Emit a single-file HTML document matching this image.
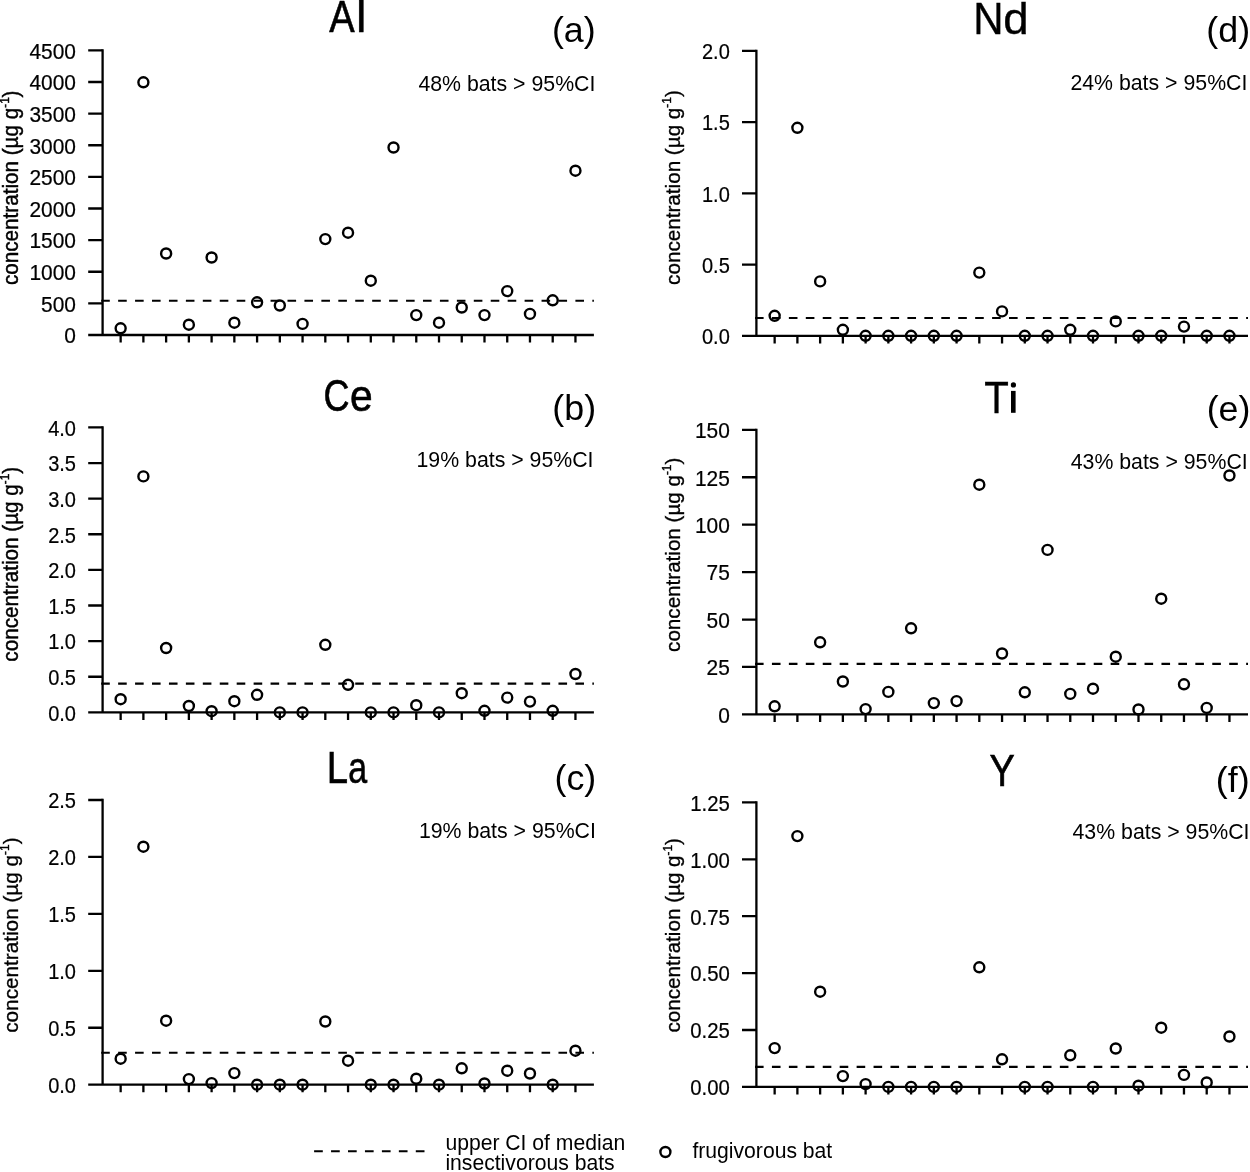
<!DOCTYPE html>
<html><head><meta charset="utf-8"><title>Figure</title>
<style>html,body{margin:0;padding:0;background:#fff}svg{display:block}svg{will-change:transform}text{font-family:"Liberation Sans",sans-serif;fill:#000}</style></head><body>
<svg width="1250" height="1172" viewBox="0 0 1250 1172">
<rect width="1250" height="1172" fill="#fff"/>
<g id="panel-a">
<g stroke="#000" stroke-width="2.3" fill="none" stroke-linecap="butt">
<path d="M102.6 49.25V335"/>
<path d="M88.2 335H593.9"/>
<path d="M88.2 303.38H102.6M88.2 271.76H102.6M88.2 240.13H102.6M88.2 208.51H102.6M88.2 176.89H102.6M88.2 145.27H102.6M88.2 113.64H102.6M88.2 82.02H102.6M88.2 50.4H102.6"/>
<path d="M120.65 335V342.6M143.39 335V342.6M166.13 335V342.6M188.87 335V342.6M211.61 335V342.6M234.35 335V342.6M257.09 335V342.6M279.83 335V342.6M302.57 335V342.6M325.31 335V342.6M348.05 335V342.6M370.79 335V342.6M393.53 335V342.6M416.27 335V342.6M439.01 335V342.6M461.75 335V342.6M484.49 335V342.6M507.23 335V342.6M529.97 335V342.6M552.71 335V342.6M575.45 335V342.6"/>
<path d="M101.2 300.8H593.9" stroke-dasharray="8.6 8.336" stroke-width="2.1"/>
</g>
<g font-size="22.5" text-anchor="end" stroke="#000" stroke-width="0.22">
<text transform="translate(76 343.3) scale(0.93 1)">0</text>
<text transform="translate(76 311.68) scale(0.93 1)">500</text>
<text transform="translate(76 280.06) scale(0.93 1)">1000</text>
<text transform="translate(76 248.43) scale(0.93 1)">1500</text>
<text transform="translate(76 216.81) scale(0.93 1)">2000</text>
<text transform="translate(76 185.19) scale(0.93 1)">2500</text>
<text transform="translate(76 153.57) scale(0.93 1)">3000</text>
<text transform="translate(76 121.94) scale(0.93 1)">3500</text>
<text transform="translate(76 90.32) scale(0.93 1)">4000</text>
<text transform="translate(76 58.7) scale(0.93 1)">4500</text>
</g>
<g stroke="#000" stroke-width="2.4" fill="none">
<circle cx="120.65" cy="328.3" r="5.0"/>
<circle cx="143.39" cy="82.3" r="5.0"/>
<circle cx="166.13" cy="253.5" r="5.0"/>
<circle cx="188.87" cy="324.7" r="5.0"/>
<circle cx="211.61" cy="257.5" r="5.0"/>
<circle cx="234.35" cy="322.7" r="5.0"/>
<circle cx="257.09" cy="302.3" r="5.0"/>
<circle cx="279.83" cy="305.5" r="5.0"/>
<circle cx="302.57" cy="323.9" r="5.0"/>
<circle cx="325.31" cy="239.1" r="5.0"/>
<circle cx="348.05" cy="232.7" r="5.0"/>
<circle cx="370.79" cy="280.7" r="5.0"/>
<circle cx="393.53" cy="147.5" r="5.0"/>
<circle cx="416.27" cy="315.1" r="5.0"/>
<circle cx="439.01" cy="322.7" r="5.0"/>
<circle cx="461.75" cy="307.5" r="5.0"/>
<circle cx="484.49" cy="315.1" r="5.0"/>
<circle cx="507.23" cy="291.1" r="5.0"/>
<circle cx="529.97" cy="313.9" r="5.0"/>
<circle cx="552.71" cy="300.3" r="5.0"/>
<circle cx="575.45" cy="170.7" r="5.0"/>
</g>
<text transform="translate(17.8 187.8) rotate(-90)" font-size="21.3" stroke="#000" stroke-width="0.45" text-anchor="middle" textLength="194.6" lengthAdjust="spacingAndGlyphs">concentration (µg g<tspan font-size="12" dy="-8.8">-1</tspan><tspan dy="8.8">)</tspan></text>
<text transform="translate(329.28 31.7) scale(0.8621 1)" font-size="44.2" stroke="#000" stroke-width="0.6">A</text>
<text transform="translate(356.26 31.7) scale(1.0133 1)" font-size="44.2" stroke="#000" stroke-width="0.6">l</text>
<text x="595.7" y="41.6" font-size="35.8" text-anchor="end">(a)</text>
<text x="595.4" y="90.5" font-size="21.3" text-anchor="end">48% bats &gt; 95%CI</text>
</g>
<g id="panel-b">
<g stroke="#000" stroke-width="2.3" fill="none" stroke-linecap="butt">
<path d="M102.6 426.25V712.4"/>
<path d="M88.2 712.4H593.9"/>
<path d="M88.2 676.77H102.6M88.2 641.15H102.6M88.2 605.52H102.6M88.2 569.9H102.6M88.2 534.27H102.6M88.2 498.65H102.6M88.2 463.03H102.6M88.2 427.4H102.6"/>
<path d="M120.65 712.4V720M143.39 712.4V720M166.13 712.4V720M188.87 712.4V720M211.61 712.4V720M234.35 712.4V720M257.09 712.4V720M279.83 712.4V720M302.57 712.4V720M325.31 712.4V720M348.05 712.4V720M370.79 712.4V720M393.53 712.4V720M416.27 712.4V720M439.01 712.4V720M461.75 712.4V720M484.49 712.4V720M507.23 712.4V720M529.97 712.4V720M552.71 712.4V720M575.45 712.4V720"/>
<path d="M101.2 683.6H593.9" stroke-dasharray="8.6 8.336" stroke-width="2.1"/>
</g>
<g font-size="22.5" text-anchor="end" stroke="#000" stroke-width="0.22">
<text transform="translate(76 720.7) scale(0.89 1)">0.0</text>
<text transform="translate(76 685.07) scale(0.89 1)">0.5</text>
<text transform="translate(76 649.45) scale(0.89 1)">1.0</text>
<text transform="translate(76 613.82) scale(0.89 1)">1.5</text>
<text transform="translate(76 578.2) scale(0.89 1)">2.0</text>
<text transform="translate(76 542.57) scale(0.89 1)">2.5</text>
<text transform="translate(76 506.95) scale(0.89 1)">3.0</text>
<text transform="translate(76 471.33) scale(0.89 1)">3.5</text>
<text transform="translate(76 435.7) scale(0.89 1)">4.0</text>
</g>
<g stroke="#000" stroke-width="2.4" fill="none">
<circle cx="120.65" cy="699.2" r="5.0"/>
<circle cx="143.39" cy="476.4" r="5.0"/>
<circle cx="166.13" cy="648" r="5.0"/>
<circle cx="188.87" cy="706" r="5.0"/>
<circle cx="211.61" cy="711.2" r="5.0"/>
<circle cx="234.35" cy="701.2" r="5.0"/>
<circle cx="257.09" cy="694.8" r="5.0"/>
<circle cx="279.83" cy="712.4" r="5.0"/>
<circle cx="302.57" cy="712.4" r="5.0"/>
<circle cx="325.31" cy="644.8" r="5.0"/>
<circle cx="348.05" cy="684.8" r="5.0"/>
<circle cx="370.79" cy="712.4" r="5.0"/>
<circle cx="393.53" cy="712.4" r="5.0"/>
<circle cx="416.27" cy="705.2" r="5.0"/>
<circle cx="439.01" cy="712.4" r="5.0"/>
<circle cx="461.75" cy="693.2" r="5.0"/>
<circle cx="484.49" cy="710.8" r="5.0"/>
<circle cx="507.23" cy="697.6" r="5.0"/>
<circle cx="529.97" cy="701.6" r="5.0"/>
<circle cx="552.71" cy="710.8" r="5.0"/>
<circle cx="575.45" cy="674" r="5.0"/>
</g>
<text transform="translate(18 564.3) rotate(-90)" font-size="21.3" stroke="#000" stroke-width="0.45" text-anchor="middle" textLength="194.8" lengthAdjust="spacingAndGlyphs">concentration (µg g<tspan font-size="12" dy="-8.8">-1</tspan><tspan dy="8.8">)</tspan></text>
<text transform="translate(323.47 410.6) scale(0.8143 1)" font-size="44.2" stroke="#000" stroke-width="0.6">C</text>
<text transform="translate(350.06 410.6) scale(0.9220 1)" font-size="44.2" stroke="#000" stroke-width="0.6">e</text>
<text x="596.1" y="420.2" font-size="35.8" text-anchor="end">(b)</text>
<text x="593.5" y="467.2" font-size="21.3" text-anchor="end">19% bats &gt; 95%CI</text>
</g>
<g id="panel-c">
<g stroke="#000" stroke-width="2.3" fill="none" stroke-linecap="butt">
<path d="M102.6 798.85V1084.7"/>
<path d="M88.2 1084.7H593.9"/>
<path d="M88.2 1027.76H102.6M88.2 970.82H102.6M88.2 913.88H102.6M88.2 856.94H102.6M88.2 800H102.6"/>
<path d="M120.65 1084.7V1092.3M143.39 1084.7V1092.3M166.13 1084.7V1092.3M188.87 1084.7V1092.3M211.61 1084.7V1092.3M234.35 1084.7V1092.3M257.09 1084.7V1092.3M279.83 1084.7V1092.3M302.57 1084.7V1092.3M325.31 1084.7V1092.3M348.05 1084.7V1092.3M370.79 1084.7V1092.3M393.53 1084.7V1092.3M416.27 1084.7V1092.3M439.01 1084.7V1092.3M461.75 1084.7V1092.3M484.49 1084.7V1092.3M507.23 1084.7V1092.3M529.97 1084.7V1092.3M552.71 1084.7V1092.3M575.45 1084.7V1092.3"/>
<path d="M101.2 1052.75H593.9" stroke-dasharray="8.6 8.336" stroke-width="2.1"/>
</g>
<g font-size="22.5" text-anchor="end" stroke="#000" stroke-width="0.22">
<text transform="translate(76 1092.6) scale(0.89 1)">0.0</text>
<text transform="translate(76 1035.66) scale(0.89 1)">0.5</text>
<text transform="translate(76 978.72) scale(0.89 1)">1.0</text>
<text transform="translate(76 921.78) scale(0.89 1)">1.5</text>
<text transform="translate(76 864.84) scale(0.89 1)">2.0</text>
<text transform="translate(76 807.9) scale(0.89 1)">2.5</text>
</g>
<g stroke="#000" stroke-width="2.4" fill="none">
<circle cx="120.65" cy="1058.7" r="5.0"/>
<circle cx="143.39" cy="846.7" r="5.0"/>
<circle cx="166.13" cy="1020.7" r="5.0"/>
<circle cx="188.87" cy="1079.1" r="5.0"/>
<circle cx="211.61" cy="1083.1" r="5.0"/>
<circle cx="234.35" cy="1073.1" r="5.0"/>
<circle cx="257.09" cy="1084.7" r="5.0"/>
<circle cx="279.83" cy="1084.7" r="5.0"/>
<circle cx="302.57" cy="1084.7" r="5.0"/>
<circle cx="325.31" cy="1021.5" r="5.0"/>
<circle cx="348.05" cy="1060.7" r="5.0"/>
<circle cx="370.79" cy="1084.7" r="5.0"/>
<circle cx="393.53" cy="1084.7" r="5.0"/>
<circle cx="416.27" cy="1078.7" r="5.0"/>
<circle cx="439.01" cy="1084.7" r="5.0"/>
<circle cx="461.75" cy="1068.3" r="5.0"/>
<circle cx="484.49" cy="1083.5" r="5.0"/>
<circle cx="507.23" cy="1070.7" r="5.0"/>
<circle cx="529.97" cy="1073.5" r="5.0"/>
<circle cx="552.71" cy="1084.7" r="5.0"/>
<circle cx="575.45" cy="1050.7" r="5.0"/>
</g>
<text transform="translate(17.5 935.1) rotate(-90)" font-size="20.9" stroke="#000" stroke-width="0.35" text-anchor="middle" textLength="195.4" lengthAdjust="spacingAndGlyphs">concentration (µg g<tspan font-size="12" dy="-8.8">-1</tspan><tspan dy="8.8">)</tspan></text>
<text transform="translate(326.85 783.1) scale(0.8675 1)" font-size="44.2" stroke="#000" stroke-width="0.6">L</text>
<text transform="translate(348.16 783.1) scale(0.7689 1)" font-size="44.2" stroke="#000" stroke-width="0.6">a</text>
<text x="596.3" y="790.4" font-size="35.8" text-anchor="end">(c)</text>
<text x="595.9" y="838.4" font-size="21.3" text-anchor="end">19% bats &gt; 95%CI</text>
</g>
<g id="panel-d">
<g stroke="#000" stroke-width="2.3" fill="none" stroke-linecap="butt">
<path d="M756.4 49.65V335.8"/>
<path d="M742 335.8H1248"/>
<path d="M742 264.55H756.4M742 193.3H756.4M742 122.05H756.4M742 50.8H756.4"/>
<path d="M774.65 335.8V343.4M797.39 335.8V343.4M820.13 335.8V343.4M842.87 335.8V343.4M865.61 335.8V343.4M888.35 335.8V343.4M911.09 335.8V343.4M933.83 335.8V343.4M956.57 335.8V343.4M979.31 335.8V343.4M1002.05 335.8V343.4M1024.79 335.8V343.4M1047.53 335.8V343.4M1070.27 335.8V343.4M1093.01 335.8V343.4M1115.75 335.8V343.4M1138.49 335.8V343.4M1161.23 335.8V343.4M1183.97 335.8V343.4M1206.71 335.8V343.4M1229.45 335.8V343.4"/>
<path d="M755 318H1248" stroke-dasharray="8.6 8.336" stroke-width="2.1"/>
</g>
<g font-size="22.5" text-anchor="end" stroke="#000" stroke-width="0.22">
<text transform="translate(729.8 344.1) scale(0.89 1)">0.0</text>
<text transform="translate(729.8 272.85) scale(0.89 1)">0.5</text>
<text transform="translate(729.8 201.6) scale(0.89 1)">1.0</text>
<text transform="translate(729.8 130.35) scale(0.89 1)">1.5</text>
<text transform="translate(729.8 59.1) scale(0.89 1)">2.0</text>
</g>
<g stroke="#000" stroke-width="2.4" fill="none">
<circle cx="774.65" cy="315.8" r="5.0"/>
<circle cx="797.39" cy="127.8" r="5.0"/>
<circle cx="820.13" cy="281.4" r="5.0"/>
<circle cx="842.87" cy="329.8" r="5.0"/>
<circle cx="865.61" cy="335.8" r="5.0"/>
<circle cx="888.35" cy="335.8" r="5.0"/>
<circle cx="911.09" cy="335.8" r="5.0"/>
<circle cx="933.83" cy="335.8" r="5.0"/>
<circle cx="956.57" cy="335.8" r="5.0"/>
<circle cx="979.31" cy="272.6" r="5.0"/>
<circle cx="1002.05" cy="311.4" r="5.0"/>
<circle cx="1024.79" cy="335.8" r="5.0"/>
<circle cx="1047.53" cy="335.8" r="5.0"/>
<circle cx="1070.27" cy="329.8" r="5.0"/>
<circle cx="1093.01" cy="335.8" r="5.0"/>
<circle cx="1115.75" cy="321.4" r="5.0"/>
<circle cx="1138.49" cy="335.8" r="5.0"/>
<circle cx="1161.23" cy="335.8" r="5.0"/>
<circle cx="1183.97" cy="326.6" r="5.0"/>
<circle cx="1206.71" cy="335.8" r="5.0"/>
<circle cx="1229.45" cy="335.8" r="5.0"/>
</g>
<text transform="translate(680.2 187.55) rotate(-90)" font-size="20.9" stroke="#000" stroke-width="0.35" text-anchor="middle" textLength="194.7" lengthAdjust="spacingAndGlyphs">concentration (µg g<tspan font-size="12" dy="-8.8">-1</tspan><tspan dy="8.8">)</tspan></text>
<text transform="translate(973.22 33.9) scale(0.9490 1)" font-size="44.2" stroke="#000" stroke-width="0.35">N</text>
<text transform="translate(1003.17 33.9) scale(1.0325 1)" font-size="44.2" stroke="#000" stroke-width="0.35">d</text>
<text x="1250.1" y="41.9" font-size="35.8" text-anchor="end">(d)</text>
<text x="1247.4" y="90" font-size="21.3" text-anchor="end">24% bats &gt; 95%CI</text>
</g>
<g id="panel-e">
<g stroke="#000" stroke-width="2.3" fill="none" stroke-linecap="butt">
<path d="M756.4 428.65V714.4"/>
<path d="M742 714.4H1248"/>
<path d="M742 666.97H756.4M742 619.53H756.4M742 572.1H756.4M742 524.67H756.4M742 477.23H756.4M742 429.8H756.4"/>
<path d="M774.65 714.4V722M797.39 714.4V722M820.13 714.4V722M842.87 714.4V722M865.61 714.4V722M888.35 714.4V722M911.09 714.4V722M933.83 714.4V722M956.57 714.4V722M979.31 714.4V722M1002.05 714.4V722M1024.79 714.4V722M1047.53 714.4V722M1070.27 714.4V722M1093.01 714.4V722M1115.75 714.4V722M1138.49 714.4V722M1161.23 714.4V722M1183.97 714.4V722M1206.71 714.4V722M1229.45 714.4V722"/>
<path d="M755 663.9H1248" stroke-dasharray="8.6 8.336" stroke-width="2.1"/>
</g>
<g font-size="22.5" text-anchor="end" stroke="#000" stroke-width="0.22">
<text transform="translate(729.8 722.7) scale(0.93 1)">0</text>
<text transform="translate(729.8 675.27) scale(0.93 1)">25</text>
<text transform="translate(729.8 627.83) scale(0.93 1)">50</text>
<text transform="translate(729.8 580.4) scale(0.93 1)">75</text>
<text transform="translate(729.8 532.97) scale(0.93 1)">100</text>
<text transform="translate(729.8 485.53) scale(0.93 1)">125</text>
<text transform="translate(729.8 438.1) scale(0.93 1)">150</text>
</g>
<g stroke="#000" stroke-width="2.4" fill="none">
<circle cx="774.65" cy="706.3" r="5.0"/>
<circle cx="820.13" cy="642.3" r="5.0"/>
<circle cx="842.87" cy="681.5" r="5.0"/>
<circle cx="865.61" cy="709.1" r="5.0"/>
<circle cx="888.35" cy="691.9" r="5.0"/>
<circle cx="911.09" cy="628.3" r="5.0"/>
<circle cx="933.83" cy="703.1" r="5.0"/>
<circle cx="956.57" cy="701.1" r="5.0"/>
<circle cx="979.31" cy="484.7" r="5.0"/>
<circle cx="1002.05" cy="653.5" r="5.0"/>
<circle cx="1024.79" cy="692.3" r="5.0"/>
<circle cx="1047.53" cy="549.9" r="5.0"/>
<circle cx="1070.27" cy="693.9" r="5.0"/>
<circle cx="1093.01" cy="688.7" r="5.0"/>
<circle cx="1115.75" cy="656.7" r="5.0"/>
<circle cx="1138.49" cy="709.5" r="5.0"/>
<circle cx="1161.23" cy="598.7" r="5.0"/>
<circle cx="1183.97" cy="684.3" r="5.0"/>
<circle cx="1206.71" cy="707.9" r="5.0"/>
<circle cx="1229.45" cy="475.5" r="5.0"/>
</g>
<text transform="translate(680.2 554.8) rotate(-90)" font-size="20.9" stroke="#000" stroke-width="0.35" text-anchor="middle" textLength="194.2" lengthAdjust="spacingAndGlyphs">concentration (µg g<tspan font-size="12" dy="-8.8">-1</tspan><tspan dy="8.8">)</tspan></text>
<text transform="translate(984.26 412.8) scale(0.9100 1)" font-size="44.2" stroke="#000" stroke-width="0.35">T</text>
<circle cx="1013.4" cy="384.9" r="2.6" fill="#000"/>
<rect x="1011" y="390.9" width="4.6" height="21.9" fill="#000"/>
<text x="1250.4" y="421.1" font-size="35.8" text-anchor="end">(e)</text>
<text x="1247.7" y="468.6" font-size="21.3" text-anchor="end">43% bats &gt; 95%CI</text>
</g>
<g id="panel-f">
<g stroke="#000" stroke-width="2.3" fill="none" stroke-linecap="butt">
<path d="M756.4 801.25V1086.9"/>
<path d="M742 1086.9H1248"/>
<path d="M742 1030H756.4M742 973.1H756.4M742 916.2H756.4M742 859.3H756.4M742 802.4H756.4"/>
<path d="M774.65 1086.9V1094.5M797.39 1086.9V1094.5M820.13 1086.9V1094.5M842.87 1086.9V1094.5M865.61 1086.9V1094.5M888.35 1086.9V1094.5M911.09 1086.9V1094.5M933.83 1086.9V1094.5M956.57 1086.9V1094.5M979.31 1086.9V1094.5M1002.05 1086.9V1094.5M1024.79 1086.9V1094.5M1047.53 1086.9V1094.5M1070.27 1086.9V1094.5M1093.01 1086.9V1094.5M1115.75 1086.9V1094.5M1138.49 1086.9V1094.5M1161.23 1086.9V1094.5M1183.97 1086.9V1094.5M1206.71 1086.9V1094.5M1229.45 1086.9V1094.5"/>
<path d="M755 1066.9H1248" stroke-dasharray="8.6 8.336" stroke-width="2.1"/>
</g>
<g font-size="22.5" text-anchor="end" stroke="#000" stroke-width="0.22">
<text transform="translate(729.8 1095.2) scale(0.905 1)">0.00</text>
<text transform="translate(729.8 1038.3) scale(0.905 1)">0.25</text>
<text transform="translate(729.8 981.4) scale(0.905 1)">0.50</text>
<text transform="translate(729.8 924.5) scale(0.905 1)">0.75</text>
<text transform="translate(729.8 867.6) scale(0.905 1)">1.00</text>
<text transform="translate(729.8 810.7) scale(0.905 1)">1.25</text>
</g>
<g stroke="#000" stroke-width="2.4" fill="none">
<circle cx="774.65" cy="1048.1" r="5.0"/>
<circle cx="797.39" cy="836.1" r="5.0"/>
<circle cx="820.13" cy="991.7" r="5.0"/>
<circle cx="842.87" cy="1076.1" r="5.0"/>
<circle cx="865.61" cy="1084.1" r="5.0"/>
<circle cx="888.35" cy="1086.9" r="5.0"/>
<circle cx="911.09" cy="1086.9" r="5.0"/>
<circle cx="933.83" cy="1086.9" r="5.0"/>
<circle cx="956.57" cy="1086.9" r="5.0"/>
<circle cx="979.31" cy="967.3" r="5.0"/>
<circle cx="1002.05" cy="1059.3" r="5.0"/>
<circle cx="1024.79" cy="1086.9" r="5.0"/>
<circle cx="1047.53" cy="1086.9" r="5.0"/>
<circle cx="1070.27" cy="1055.3" r="5.0"/>
<circle cx="1093.01" cy="1086.9" r="5.0"/>
<circle cx="1115.75" cy="1048.5" r="5.0"/>
<circle cx="1138.49" cy="1085.7" r="5.0"/>
<circle cx="1161.23" cy="1027.7" r="5.0"/>
<circle cx="1183.97" cy="1074.9" r="5.0"/>
<circle cx="1206.71" cy="1082.5" r="5.0"/>
<circle cx="1229.45" cy="1036.5" r="5.0"/>
</g>
<text transform="translate(680.3 935.25) rotate(-90)" font-size="20.9" stroke="#000" stroke-width="0.35" text-anchor="middle" textLength="194.5" lengthAdjust="spacingAndGlyphs">concentration (µg g<tspan font-size="12" dy="-8.8">-1</tspan><tspan dy="8.8">)</tspan></text>
<text transform="translate(989.54 785.8) scale(0.8582 1)" font-size="44.2" stroke="#000" stroke-width="0.6">Y</text>
<text x="1249.6" y="792.2" font-size="35.8" text-anchor="end">(f)</text>
<text x="1249.5" y="838.5" font-size="21.3" text-anchor="end">43% bats &gt; 95%CI</text>
</g>
<g id="legend">
<path d="M314.1 1151.2H424.5" stroke="#000" stroke-width="2.15" stroke-dasharray="8.7 8.25" fill="none"/>
<text x="445.4" y="1150.1" font-size="21.15">upper CI of median</text>
<text x="445.4" y="1169.8" font-size="21.15">insectivorous bats</text>
<circle cx="665.4" cy="1152.0" r="5.0" stroke="#000" stroke-width="2.4" fill="none"/>
<text x="692.4" y="1157.8" font-size="21.15">frugivorous bat</text>
</g>
</svg></body></html>
